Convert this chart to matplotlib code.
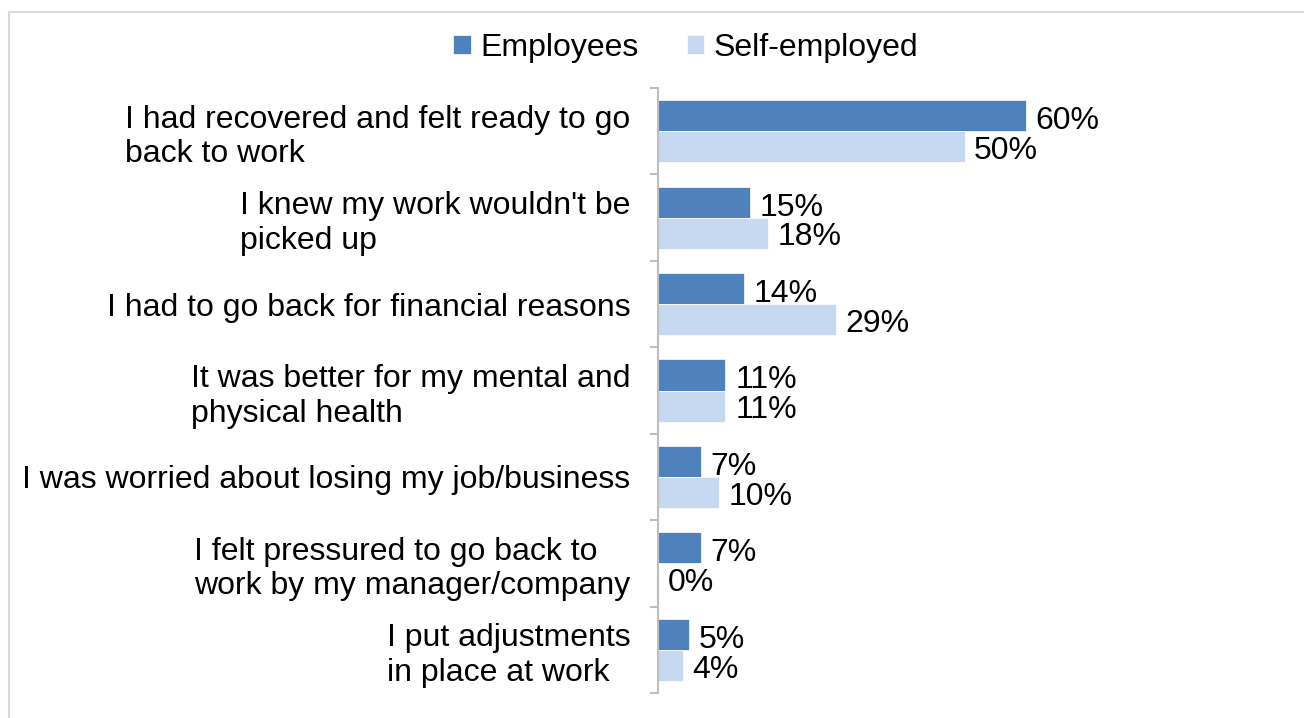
import matplotlib.pyplot as plt
from matplotlib.patches import Rectangle
import numpy as np

plt.rcParams['font.family'] = ['Liberation Sans', 'DejaVu Sans']

reasons = [
    "I had recovered and felt ready to go\nback to work",
    "I knew my work wouldn't be\npicked up",
    "I had to go back for financial reasons",
    "It was better for my mental and\nphysical health",
    "I was worried about losing my job/business",
    "I felt pressured to go back to\nwork by my manager/company",
    "I put adjustments\nin place at work",
]
employees = [60, 15, 14, 11, 7, 7, 5]
self_employed = [50, 18, 29, 11, 10, 0, 4]

emp_color = '#4F81BD'
self_color = '#C6D9F1'
fs = 23

W, H = 1304, 718
fig = plt.figure(figsize=(W / 100, H / 100), dpi=100)

# light frame around the chart area
fig.patches.append(Rectangle((9 / W, -0.01), 1.0, 1 - 12 / H + 0.01,
                             transform=fig.transFigure, fill=False,
                             edgecolor='#D9D9D9', linewidth=1.5))

ax = fig.add_axes([658 / W, 25 / H, 613 / W, 605 / H])

y = np.arange(len(reasons))
h = 0.36
ax.barh(y - 0.18, employees, height=h, color=emp_color, edgecolor='white',
        linewidth=0.5, label='Employees')
ax.barh(y + 0.18, self_employed, height=h, color=self_color, edgecolor='white',
        linewidth=0.5, label='Self-employed')

for i in range(len(reasons)):
    ax.annotate(f'{employees[i]}%', (employees[i], y[i] - 0.18), xytext=(7, -4),
                textcoords='offset points', va='center', ha='left', fontsize=fs)
    ax.annotate(f'{self_employed[i]}%', (self_employed[i], y[i] + 0.18), xytext=(7, -3),
                textcoords='offset points', va='center', ha='left', fontsize=fs)

ax.set_xlim(0, 100)
ax.set_ylim(len(reasons) - 0.5, -0.5)

for s in ['top', 'right', 'bottom']:
    ax.spines[s].set_visible(False)
ax.spines['left'].set_color('#BFBFBF')
ax.spines['left'].set_linewidth(1.5)
ax.set_xticks([])

ax.set_yticks(y)
ax.set_yticklabels(reasons, fontsize=fs, multialignment='left')
ax.tick_params(axis='y', which='major', length=0, pad=20)
ax.set_yticks(np.arange(len(reasons) + 1) - 0.5, minor=True)
ax.tick_params(axis='y', which='minor', length=6, width=1.5, color='#BFBFBF')

fig.legend(loc='center', bbox_to_anchor=(686 / W, 1 - 48 / H), ncol=2,
           frameon=False, fontsize=fs, handlelength=0.55, handleheight=0.55,
           handletextpad=0.3, columnspacing=1.5)

fig.savefig('out.png', dpi=100)
